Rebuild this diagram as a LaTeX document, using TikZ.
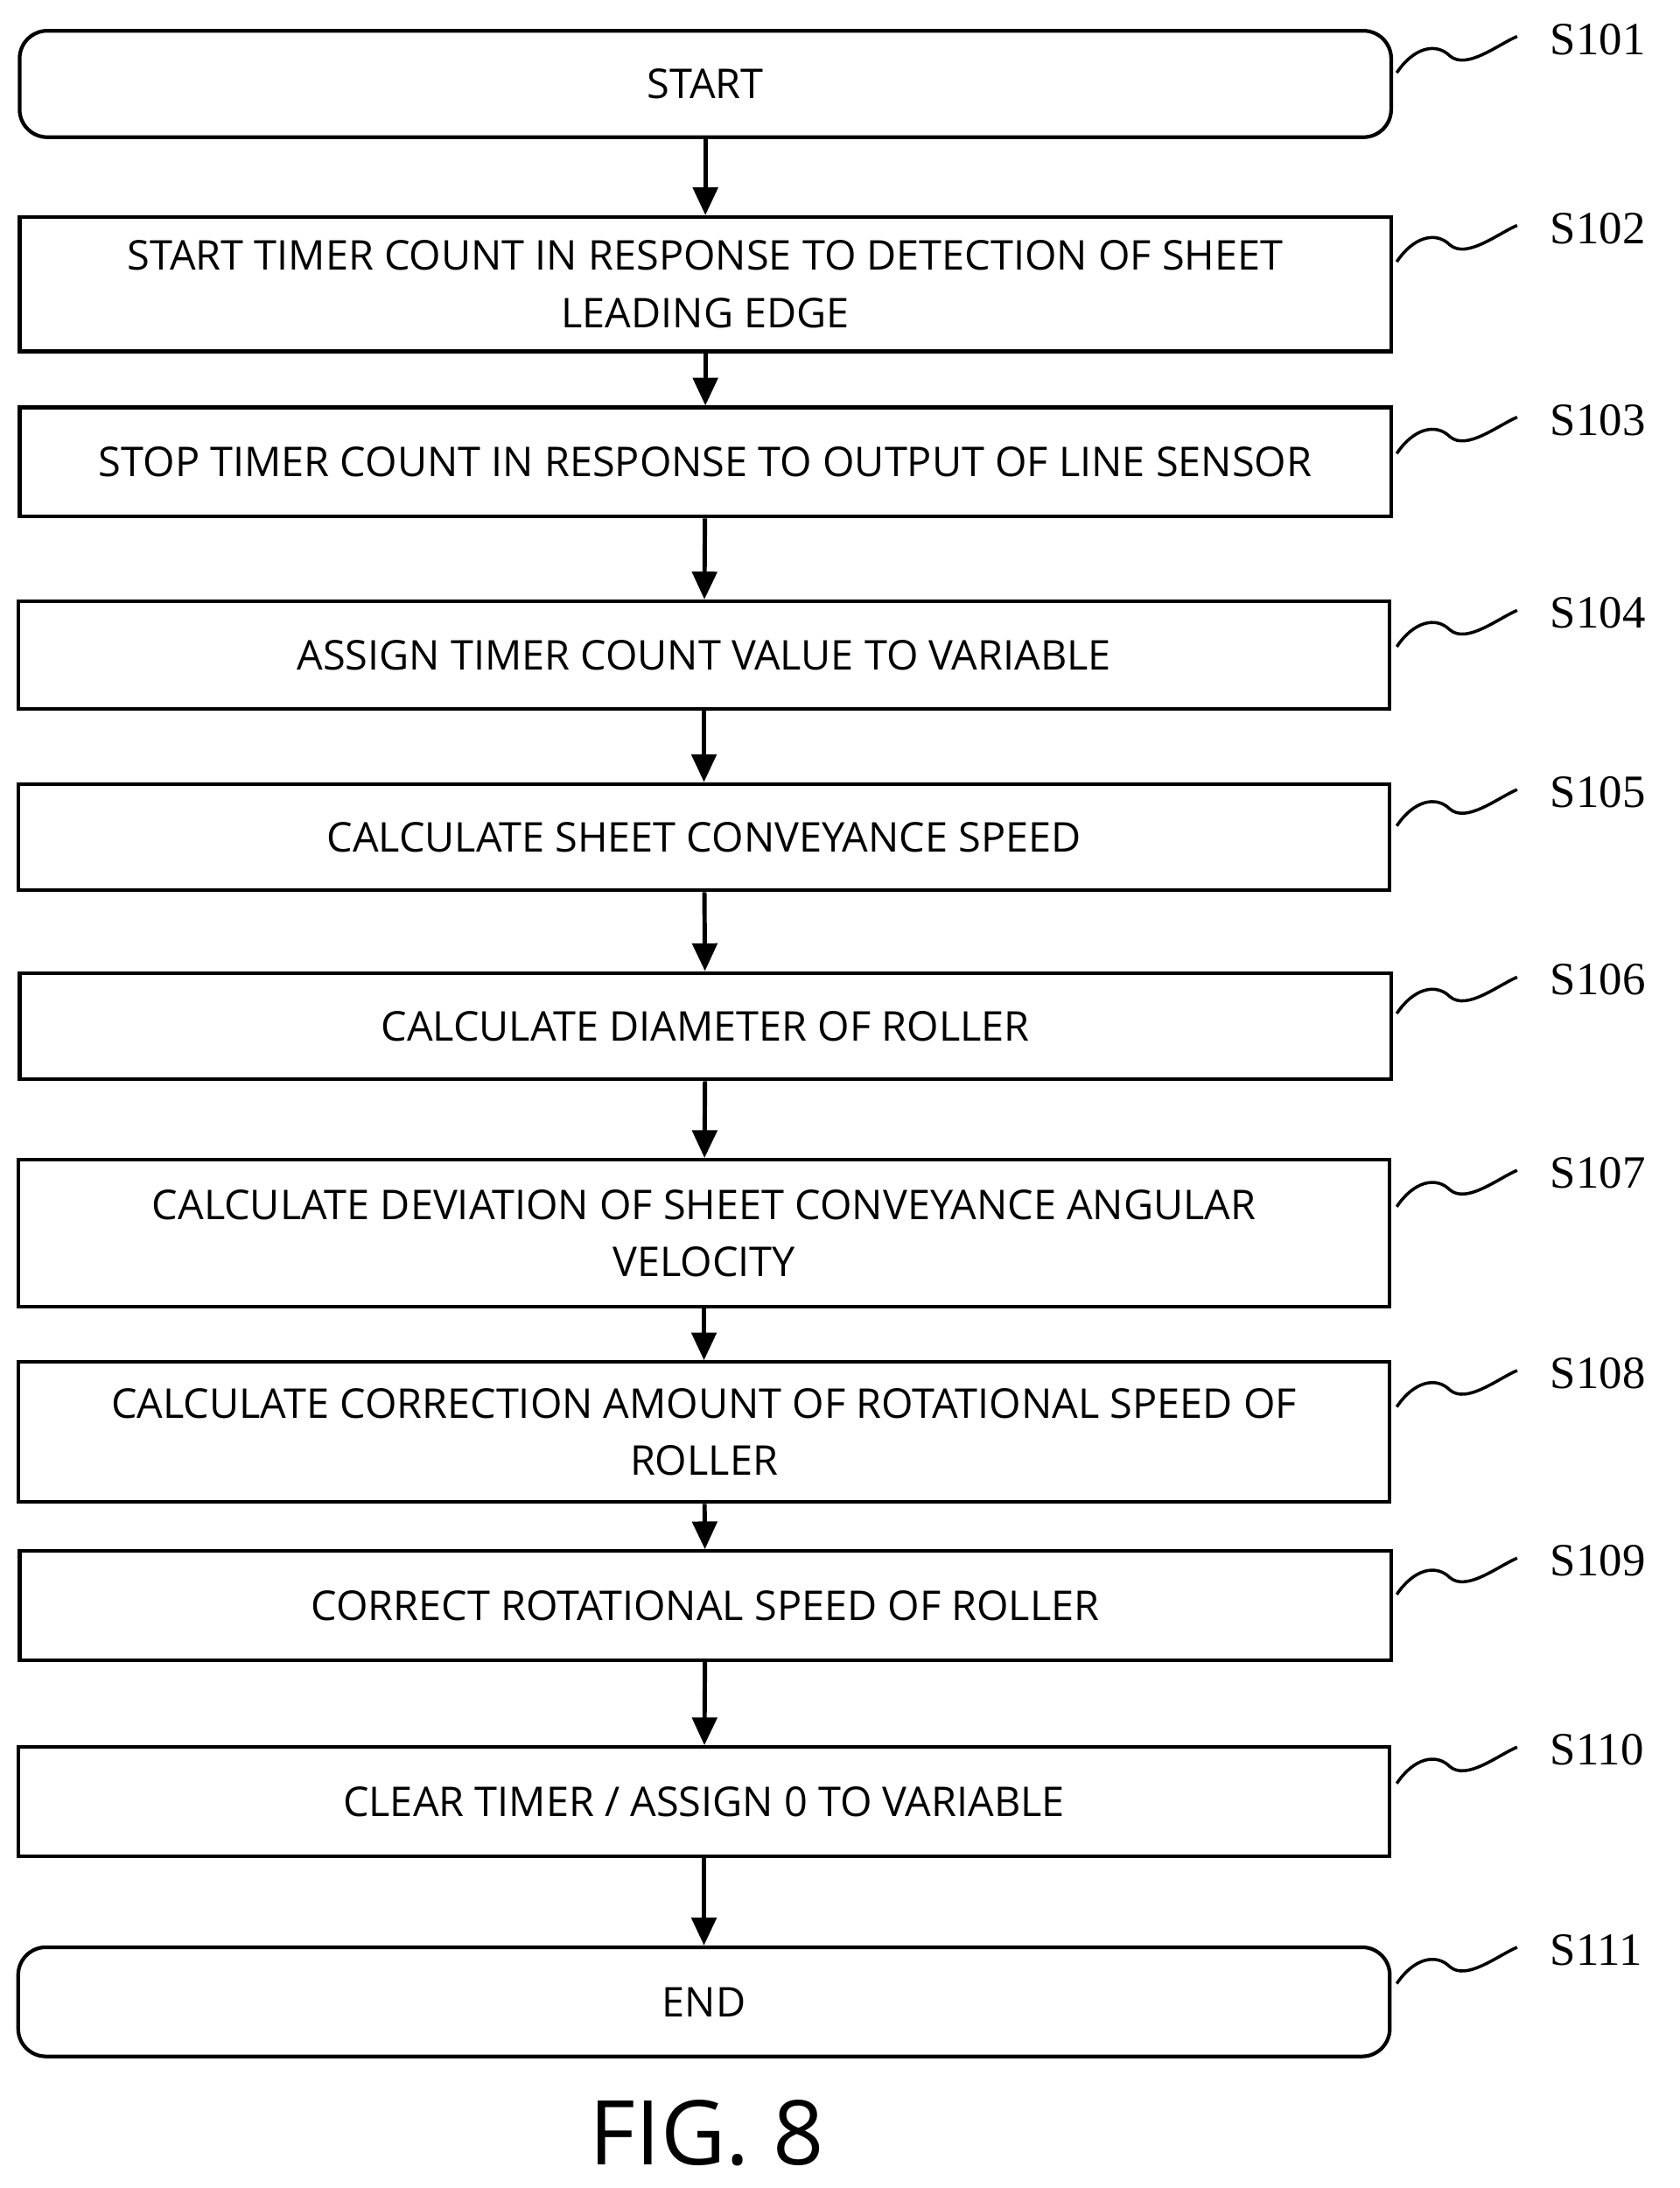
\documentclass[tikz,border=0pt]{standalone}
\usepackage{fontspec}
\setmainfont{Liberation Serif}
\newfontfamily\boxfont{Open Sans}
\usetikzlibrary{arrows.meta, positioning, calc}

\begin{document}
\begin{tikzpicture}[x=0.01596cm, y=-0.01596cm,
        proc/.style={draw, line width=1.2pt, minimum width=980*0.01596cm, align=center,
            font=\boxfont\fontsize{13.3}{18.5}\selectfont},
        term/.style={proc, rounded corners=9pt},
        tag/.style={anchor=west, font=\fontsize{15}{18}\selectfont},
        arrow/.style={-{Triangle[length=9pt, width=8pt]}, line width=1.4pt},
        squig/.style={line width=1pt}
    ]
    \useasboundingbox (0,0) rectangle (1200,1563);

    % Steps
    \node[term, minimum height=76*0.01596cm] (s101) at (504,60) {START};
    \node[proc, minimum height=96*0.01596cm] (s102) at (504,203) {START TIMER COUNT IN RESPONSE TO DETECTION OF SHEET\\LEADING EDGE};
    \node[proc, minimum height=78*0.01596cm] (s103) at (504,330) {STOP TIMER COUNT IN RESPONSE TO OUTPUT OF LINE SENSOR};
    \node[proc, minimum height=77*0.01596cm] (s104) at (503,468) {ASSIGN TIMER COUNT VALUE TO VARIABLE};
    \node[proc, minimum height=76*0.01596cm] (s105) at (503,598) {CALCULATE SHEET CONVEYANCE SPEED};
    \node[proc, minimum height=76*0.01596cm] (s106) at (504,733) {CALCULATE DIAMETER OF ROLLER};
    \node[proc, minimum height=105*0.01596cm] (s107) at (503,881) {CALCULATE DEVIATION OF SHEET CONVEYANCE ANGULAR\\VELOCITY};
    \node[proc, minimum height=100*0.01596cm] (s108) at (503,1023) {CALCULATE CORRECTION AMOUNT OF ROTATIONAL SPEED OF\\ROLLER};
    \node[proc, minimum height=78*0.01596cm] (s109) at (504,1147) {CORRECT ROTATIONAL SPEED OF ROLLER};
    \node[proc, minimum height=78*0.01596cm] (s110) at (503,1287) {CLEAR TIMER / ASSIGN 0 TO VARIABLE};
    \node[term, minimum height=78*0.01596cm] (s111) at (503,1430) {END};

    % Arrows
    \foreach \a/\b in {s101/s102, s102/s103, s103/s104, s104/s105, s105/s106,
                       s106/s107, s107/s108, s108/s109, s109/s110, s110/s111}
        \draw[arrow] (\a) -- (\b);

    % Step labels with squiggles
    \foreach \s/\n/\y in {s101/101/28, s102/102/163, s103/103/300, s104/104/438, s105/105/566,
                          s106/106/700, s107/107/838, s108/108/981, s109/109/1115,
                          s110/110/1250, s111/111/1393}
    {
        \node[tag] (t\s) at (1100,\y) {S\n};
        \coordinate (w\s) at (998,\y+24);
        \draw[squig] (w\s) .. controls +(12,-18) and +(-10,-10) .. +(38,-12)
            .. controls +(12,10) and +(-14,6) .. +(86,-26);
    }

    % Figure caption
    \node[font=\boxfont\fontsize{29}{32}\selectfont] (fig) at (505,1524) {FIG. 8};

\end{tikzpicture}
\end{document}
